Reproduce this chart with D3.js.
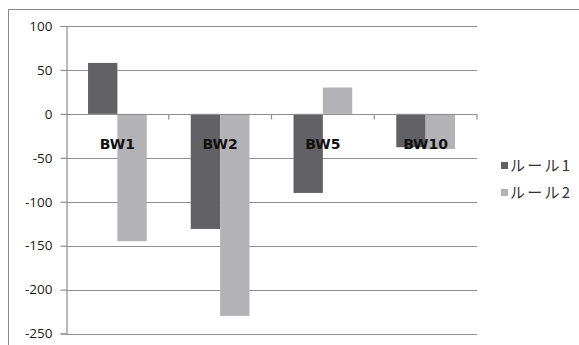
<!DOCTYPE html>
<html>
<head>
<meta charset="utf-8">
<script src="https://cdn.jsdelivr.net/npm/d3@7"></script>
<style>
  html, body { margin: 0; padding: 0; background: #fff; }
  svg { display: block; }
</style>
</head>
<body>
<svg id="chart" width="579" height="345"></svg>
<script>
// Categories, series and axis ticks
const categories = ["BW1", "BW2", "BW5", "BW10"];
const seriesNames = ["ルール1", "ルール2"];
const rule1 = [58, -131, -90, -38];
const rule2 = [-145, -230, 30, -40];
const yTicks = [100, 50, 0, -50, -100, -150, -200, -250];

const seriesColors = ["#626166", "#b3b2b6"];
const gridColor = "#8e8e8e";

const svg = d3.select("#chart");
const W = 579, H = 345;

// outer chart frame
svg.append("rect")
  .attr("x", 8.5).attr("y", 9.5)
  .attr("width", W + 10).attr("height", H + 10)
  .attr("fill", "none").attr("stroke", "#8a8a8a").attr("stroke-width", 1);

const plot = { left: 66, right: 477, top: 26, bottom: 333.5 };

const y = d3.scaleLinear().domain([-250, 100]).range([plot.bottom, plot.top]);

const x0 = d3.scaleBand()
  .domain(categories)
  .range([plot.left, plot.right])
  .paddingInner(1.5 / 3.5)
  .paddingOuter(0.75 / 3.5);

const x1 = d3.scaleBand()
  .domain(seriesNames)
  .range([0, x0.bandwidth()]);

// horizontal gridlines
svg.append("g")
  .selectAll("line")
  .data(yTicks.filter(d => d !== 0))
  .join("line")
  .attr("x1", plot.left).attr("x2", plot.right)
  .attr("y1", d => Math.round(y(d)) + 0.5).attr("y2", d => Math.round(y(d)) + 0.5)
  .attr("stroke", gridColor).attr("stroke-width", 1.2);

// bars
const rows = categories.map((c, i) => ({ cat: c, values: [rule1[i], rule2[i]] }));
const groups = svg.append("g")
  .selectAll("g")
  .data(rows)
  .join("g")
  .attr("transform", d => `translate(${x0(d.cat)},0)`);

groups.selectAll("rect")
  .data(d => d.values.map((v, k) => ({ name: seriesNames[k], v, k })))
  .join("rect")
  .attr("x", d => x1(d.name))
  .attr("width", x1.bandwidth())
  .attr("y", d => y(Math.max(0, d.v)))
  .attr("height", d => Math.abs(y(d.v) - y(0)))
  .attr("fill", d => seriesColors[d.k]);

// zero line (category axis) and its tick marks between categories
const zeroY = Math.round(y(0)) + 0.5;
svg.append("line")
  .attr("x1", plot.left).attr("x2", plot.right)
  .attr("y1", zeroY).attr("y2", zeroY)
  .attr("stroke", gridColor).attr("stroke-width", 1.2);

const step = x0.step();
const bounds = d3.range(1, categories.length + 1).map(i => plot.left + i * step);
svg.append("g")
  .selectAll("line")
  .data(bounds)
  .join("line")
  .attr("x1", d => d).attr("x2", d => d)
  .attr("y1", zeroY).attr("y2", zeroY + 5)
  .attr("stroke", gridColor).attr("stroke-width", 1.2);

// value axis
const yAxis = svg.append("g")
  .attr("transform", `translate(${plot.left + 0.5},0)`)
  .call(d3.axisLeft(y).tickValues(yTicks).tickSize(6).tickPadding(8).tickFormat(d => String(d)));
yAxis.select(".domain").attr("stroke", gridColor).attr("stroke-width", 1.2);
yAxis.selectAll(".tick line").attr("stroke", gridColor).attr("stroke-width", 1.2);
yAxis.selectAll(".tick text")
  .attr("fill", "#1a1a1a")
  .style("font-family", "'Open Sans', sans-serif")
  .style("font-size", "13.5px");

// category labels
svg.append("g")
  .selectAll("text")
  .data(categories)
  .join("text")
  .attr("x", d => x0(d) + x0.bandwidth() / 2)
  .attr("y", zeroY + 34)
  .attr("text-anchor", "middle")
  .attr("fill", "#111")
  .style("font-family", "'DejaVu Sans', sans-serif")
  .style("font-weight", "bold")
  .style("font-size", "14px")
  .text(d => d);

// legend
const legend = svg.append("g")
  .selectAll("g")
  .data(seriesNames)
  .join("g")
  .attr("transform", (d, i) => `translate(501,${165.5 + i * 27})`);

legend.append("rect")
  .attr("x", 0).attr("y", -3.5)
  .attr("width", 7).attr("height", 7)
  .attr("fill", (d, i) => seriesColors[i]);

legend.append("text")
  .attr("x", 9).attr("y", 5.5)
  .attr("fill", "#333")
  .attr("textLength", 60)
  .attr("lengthAdjust", "spacing")
  .style("font-family", "'Noto Sans CJK JP', sans-serif")
  .style("font-size", "15px")
  .text(d => d);
</script>
</body>
</html>
